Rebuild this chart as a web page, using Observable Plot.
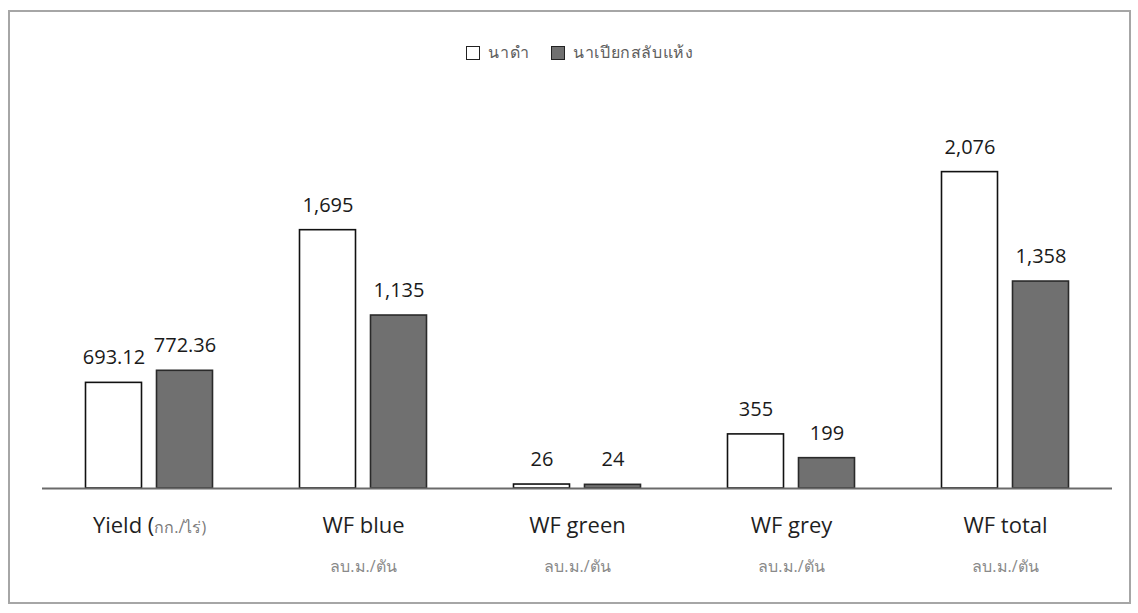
<!DOCTYPE html>
<html>
<head>
<meta charset="utf-8">
<script src="https://cdn.jsdelivr.net/npm/d3@7"></script>
<script src="https://cdn.jsdelivr.net/npm/@observablehq/plot@0.6"></script>
<style>
  body { margin: 0; background: #fff; font-family: "Open Sans", "Noto Sans", sans-serif; }
  #wrap { position: relative; width: 1138px; height: 613px; overflow: hidden; }
  #frame { position: absolute; left: 8px; top: 10px; width: 1123px; height: 594px; border: 2px solid #a6a6a6; box-sizing: border-box; pointer-events: none; }
  #legend { position: absolute; top: 40px; left: 0; width: 1160px; display: flex; justify-content: center; gap: 22px; font-size: 16px; letter-spacing: 0.6px; color: #5e5e5e; }
  #legend .item { display: flex; align-items: center; gap: 8px; }
  #legend .sw { width: 14px; height: 14px; border: 1.6px solid #222; box-sizing: border-box; }
  #chart { position: absolute; left: 0; top: 0; }
</style>
</head>
<body>
<div id="wrap">
  <div id="chart"></div>
  <div id="legend"></div>
  <div id="frame"></div>
</div>
<script>
// Water footprint of rice: transplanted paddy vs. alternate wetting and drying
const categories = ["Yield", "WF blue", "WF green", "WF grey", "WF total"];
const units = ["กก./ไร่)", "ลบ.ม./ตัน", "ลบ.ม./ตัน", "ลบ.ม./ตัน", "ลบ.ม./ตัน"];
const unitInline = [true, false, false, false, false];
const series = ["นาดำ", "นาเปียกสลับแห้ง"];
const transplanted = [693.12, 1695, 26, 355, 2076];
const awd = [772.36, 1135, 24, 199, 1358];
const seriesFill = ["#ffffff", "#707070"];
const seriesStroke = ["#111111", "#2a2a2a"];

const rows = categories.flatMap((c, i) => [
  {category: c, series: series[0], value: transplanted[i]},
  {category: c, series: series[1], value: awd[i]}
]);
const labelRows = categories.map((c, i) => ({
  category: c,
  main: unitInline[i] ? `${c} (` : c,
  unit: unitInline[i] ? "" : units[i],
  inline: unitInline[i] ? units[i] : ""
}));

const fmt = v => Number.isInteger(v) ? d3.format(",")(v) : d3.format(".2f")(v);

const chart = Plot.plot({
  width: 1138,
  height: 613,
  marginLeft: 39.5,
  marginRight: 24.5,
  marginTop: 107,
  marginBottom: 125,
  style: {fontFamily: "'Open Sans', 'Noto Sans', sans-serif", background: "transparent"},
  fx: {domain: categories, padding: 0, axis: null},
  x: {domain: series, paddingInner: 0.21, paddingOuter: 0.6, axis: null},
  y: {domain: [0, 2500], axis: null},
  color: {domain: series, range: seriesFill},
  marks: [
    Plot.barY(rows, {
      fx: "category", x: "series", y: "value",
      fill: "series",
      stroke: d => seriesStroke[series.indexOf(d.series)],
      strokeWidth: 1.6
    }),
    Plot.ruleY([0], {stroke: "#6a6a6a", strokeWidth: 2}),
    Plot.text(rows, {
      fx: "category", x: "series", y: "value",
      text: d => fmt(d.value),
      dy: -25, fontSize: 20, fill: "#1a1a1a"
    }),
    Plot.text(labelRows, {
      fx: "category", frameAnchor: "bottom",
      text: d => d.main + d.inline,
      dy: 44, fontSize: 22, fill: "#1f1f1f"
    }),
    Plot.text(labelRows, {
      fx: "category", frameAnchor: "bottom",
      text: "unit",
      dy: 83, fontSize: 16, fill: "#8a8a8a"
    })
  ]
});

// Category labels whose unit sits on the same line: draw the unit smaller and grey
d3.select(chart).selectAll("text").each(function () {
  const t = d3.select(this);
  const txt = t.text();
  const row = labelRows.find(r => r.inline && txt === r.main + r.inline);
  if (!row) return;
  t.text(null);
  t.append("tspan").text(row.main);
  t.append("tspan").attr("font-size", 16).attr("fill", "#7a7a7a").text(row.inline);
});

document.getElementById("chart").append(chart);

// Legend
const legend = d3.select("#legend");
series.forEach((s, i) => {
  const item = legend.append("div").attr("class", "item");
  item.append("div").attr("class", "sw").style("background", seriesFill[i]);
  item.append("span").text(s);
});
</script>
</body>
</html>
